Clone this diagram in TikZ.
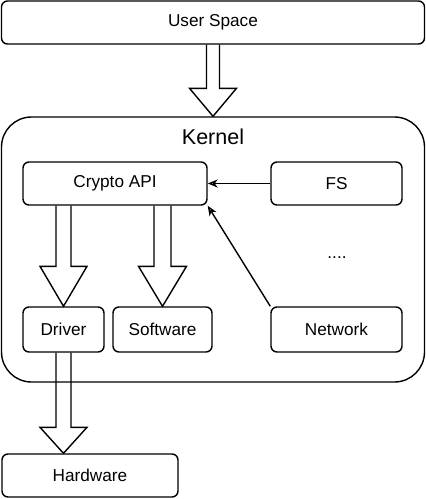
\documentclass[tikz,border=0pt]{standalone}
\usepackage{fontspec}
\setmainfont{Liberation Sans}
\usetikzlibrary{calc,arrows.meta}
\tikzset{
  box/.style={draw, line width=1.4pt, rounded corners=6pt, inner sep=0pt,
    font=\fontsize{17.2}{20}\selectfont},
  outer/.style={draw, line width=1.4pt, rounded corners=30pt, inner sep=0pt},
  blk/.style={draw, line width=1.4pt, line join=miter},
  conn/.style={draw, line width=1.4pt, -{Stealth[open, length=10pt, width=8pt, inset=3pt]}},
  lbl/.style={inner sep=0pt}
}
\newcommand\blockarr[5]{%
  \draw[blk] let \p1=(#1), \p2=(#2) in
    (\x1-#3pt,\y1) -- (\x1-#3pt,\y2+#5pt) -- (\x1-#4pt,\y2+#5pt) -- (\x1,\y2)
    -- (\x1+#4pt,\y2+#5pt) -- (\x1+#3pt,\y2+#5pt) -- (\x1+#3pt,\y1);}
\begin{document}
\begin{tikzpicture}[x=1pt,y=-1pt]
\useasboundingbox (0,0) rectangle (426,499);
\node[outer, minimum width=423pt, minimum height=265pt] (kernel) at (213,249.5) {};
\node[lbl, font=\fontsize{21.5}{24}\selectfont] (klabel) at (213,137) {Kernel};
\node[box, minimum width=423pt, minimum height=43pt] (us) at (213,22.5) {User Space};
\node[box, minimum width=184pt, minimum height=43pt] (crypto) at (115,183.5) {Crypto API};
\node[box, minimum width=131pt, minimum height=43pt] (fs) at (336.5,183.5) {FS};
\node[box, minimum width=131pt, minimum height=45pt] (net) at (336.5,329.5) {Network};
\node[box, minimum width=81pt, minimum height=45pt] (driver) at (63.5,329.5) {Driver};
\node[box, minimum width=99pt, minimum height=45pt] (soft) at (162.5,329.5) {Software};
\node[box, minimum width=176pt, minimum height=43pt] (hw) at (90,475.5) {Hardware};
\node[lbl, font=\fontsize{17.2}{20}\selectfont] (dots) at (337,258) {....};

\blockarr{us.south}{kernel.north}{6.5}{23.5}{28}
\blockarr{crypto.south -| driver.north}{driver.north}{7.5}{23.5}{40}
\blockarr{crypto.south -| soft.north}{soft.north}{8.5}{24}{40}
\blockarr{driver.south}{driver.south |- hw.north}{7.5}{23.5}{26}

\draw[conn] (fs.west) -- (crypto.east);
\draw[conn] (net.north west) -- (crypto.south east);
\end{tikzpicture}
\end{document}
